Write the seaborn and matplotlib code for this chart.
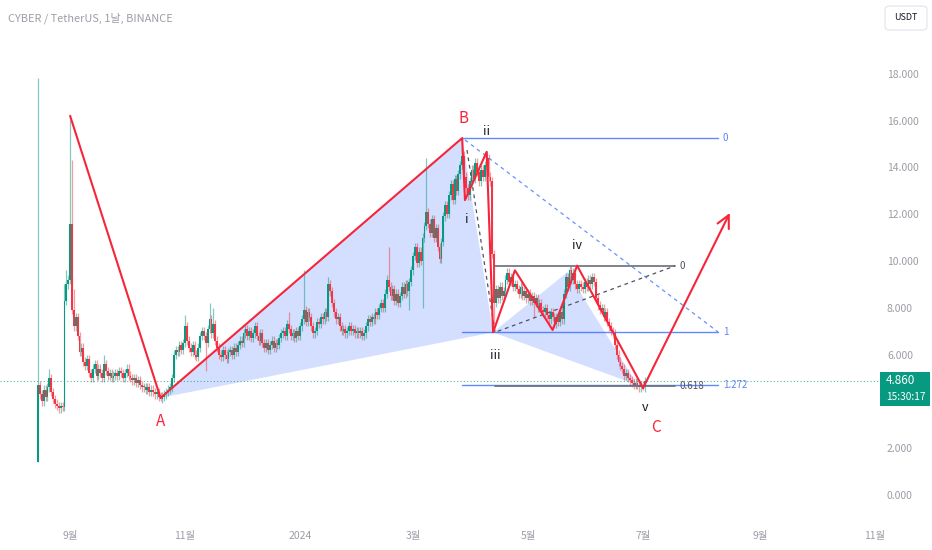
import numpy as np
import pandas as pd
import matplotlib
matplotlib.use("Agg")
import matplotlib.pyplot as plt
import matplotlib.dates as mdates
from matplotlib.patches import FancyBboxPatch, Rectangle, Polygon
import seaborn as sns

# ==========================================
# Data
# ==========================================

start = pd.Timestamp("2023-08-15")
first_open = 1.4

# daily closes, one list per month
closes_aug = [4.7, 4.3, 4.0, 4.5, 4.2, 4.6, 5.0, 4.4, 4.1, 3.9, 3.8, 3.7, 3.8, 3.75, 8.3, 9.0, 9.2]
closes_sep = [11.6, 7.9, 7.2, 7.6, 6.8, 6.1, 6.3, 5.7, 5.5, 5.8, 5.2, 5.0, 5.4, 5.6, 5.1,
              5.4, 5.2, 5.0, 5.6, 5.3, 5.1, 5.2, 5.0, 5.1, 5.2, 5.1, 5.3, 5.2, 5.0, 5.2]
closes_oct = [5.4, 5.1, 5.0, 4.9, 5.0, 4.8, 4.9, 4.7, 4.6, 4.6, 4.5, 4.6, 4.4, 4.5, 4.4, 4.3,
              4.4, 4.2, 4.1, 4.2, 4.3, 4.4, 4.5, 4.6, 5.0, 6.0, 6.2, 6.1, 6.4, 6.2, 6.5]
closes_nov = [7.2, 6.6, 6.3, 6.1, 6.4, 6.0, 5.9, 6.3, 6.8, 7.0, 6.8, 6.5, 7.1, 7.5, 6.9,
              7.3, 6.6, 6.3, 6.0, 5.9, 6.2, 6.0, 5.8, 6.1, 6.2, 6.0, 6.3, 6.1, 6.4, 6.6]
closes_dec = [6.5, 6.9, 7.1, 6.8, 7.0, 6.7, 6.9, 7.2, 6.8, 6.6, 6.9, 6.5, 6.3, 6.5, 6.2, 6.4,
              6.6, 6.3, 6.5, 6.4, 6.7, 6.9, 7.0, 6.8, 7.3, 7.1, 6.8, 6.9, 6.7, 7.0, 6.8]
closes_jan = [7.2, 7.5, 7.9, 7.4, 7.8, 7.6, 7.2, 6.9, 7.0, 7.4, 7.3, 7.6, 7.5, 7.8, 7.6, 9.0,
              8.7, 8.2, 7.8, 7.5, 7.6, 7.2, 7.0, 7.1, 6.9, 7.0, 7.2, 7.0, 7.1, 6.9, 7.0]
closes_feb = [6.9, 7.0, 6.8, 6.9, 7.2, 7.5, 7.4, 7.6, 7.5, 7.8, 7.7, 8.0, 8.2, 8.0, 8.6,
              9.2, 8.9, 8.5, 8.8, 8.3, 8.6, 8.2, 8.5, 8.9, 8.6, 9.0, 8.7, 9.1, 9.6]
closes_mar = [10.2, 10.6, 9.9, 10.4, 10.0, 11.0, 11.5, 12.1, 11.6, 11.2, 11.8, 11.0, 11.4,
              10.6, 10.1, 10.8, 11.9, 12.4, 12.0, 12.8, 13.3, 12.6, 13.5, 13.0, 13.7, 14.1,
              14.5, 13.6, 13.1, 12.8, 13.4]
closes_apr = [13.9, 13.5, 14.2, 13.8, 13.4, 13.9, 13.6, 14.1, 14.4, 13.6, 13.4, 10.3, 8.2,
              8.8, 8.4, 8.9, 8.5, 8.7, 9.2, 9.5, 9.1, 9.3, 8.9, 9.0, 8.8, 8.6, 8.9, 8.5, 8.7, 8.4]
closes_may = [8.6, 8.3, 8.5, 8.2, 8.4, 8.0, 8.2, 7.9, 7.8, 8.0, 7.7, 7.5, 7.8, 7.6, 7.3, 7.6,
              7.4, 7.8, 7.5, 8.6, 9.3, 8.9, 9.6, 9.2, 9.5, 9.0, 8.8, 9.0, 8.9, 8.8, 9.1]
closes_jun = [8.9, 9.2, 9.0, 9.3, 9.1, 8.4, 8.1, 7.9, 8.0, 7.6, 7.8, 7.4, 7.2, 7.0, 6.9,
              6.4, 6.0, 5.7, 5.5, 5.4, 5.1, 5.2, 5.0, 4.9, 4.8, 4.7, 4.8, 4.7, 4.6, 4.7]
closes_jul = [4.6, 4.86]

# wicks that stick out (day index from Aug 15 -> price)
wick_high = {0: 17.8, 6: 5.4, 14: 9.0, 15: 9.6, 17: 16.2, 18: 14.3, 19: 8.8, 35: 6.0,
             78: 7.7, 91: 8.2, 93: 8.0, 115: 7.4, 133: 7.8, 141: 9.6, 154: 9.3,
             186: 10.6, 206: 14.4, 225: 15.2, 238: 14.7, 282: 9.8}
wick_low = {0: 1.4, 65: 4.0, 89: 5.3, 197: 7.9, 204: 8.0, 213: 9.9, 228: 12.6,
            242: 7.0, 263: 7.6, 321: 4.5}

# elliott wave path
wave_dates = ["2023-09-01", "2023-10-19", "2024-03-27", "2024-03-28 12:00", "2024-04-09",
              "2024-04-12 10:00", "2024-04-24", "2024-05-14", "2024-05-27", "2024-07-01"]
wave_prices = [16.2, 4.15, 15.25, 12.6, 14.66, 6.95, 9.6, 7.05, 9.8, 4.57]
arrow_date = "2024-08-16"
arrow_price = 12.05

abc_labels = ["A", "B", "C"]
abc_dates = ["2023-10-19", "2024-03-27 12:00", "2024-07-08"]
abc_prices = [3.12, 16.1, 2.9]

sub_labels = ["i", "ii", "iii", "iv", "v"]
sub_dates = ["2024-03-29 14:00", "2024-04-09", "2024-04-13 10:00", "2024-05-27", "2024-07-02"]
sub_prices = [11.75, 15.55, 5.98, 10.64, 3.72]

# shaded triangles
tri1_dates = ["2023-10-19", "2024-03-27", "2024-04-12 10:00"]
tri1_prices = [4.15, 15.25, 6.95]
tri2_dates = ["2024-04-12 10:00", "2024-05-22", "2024-06-28"]
tri2_prices = [6.95, 9.53, 4.7]

# fib retracement (blue)
fib_start, fib_end = "2024-03-27", "2024-08-09 17:00"
fib_high, fib_low = 15.25, 6.97
fib_ratios = [0, 1, 1.272]
fib_labels = ["0", "1", "1.272"]

# trend-based fib extension (grey)
ext_start, ext_end = "2024-04-13 10:00", "2024-07-18"
ext_base = 9.79
ext_ratios = [0, 0.618]
ext_labels = ["0", "0.618"]
ext_path_dates = ["2024-03-29 14:00", "2024-04-13 10:00", "2024-07-18"]
ext_path_prices = [14.74, 6.95, 9.79]

last_price = 4.86
last_time = "15:30:17"

tick_dates = ["2023-09-01", "2023-11-01", "2024-01-01", "2024-03-01", "2024-05-01",
              "2024-07-01", "2024-09-01", "2024-11-01"]
tick_labels = ["9월", "11월", "2024", "3월", "5월", "7월", "9월", "11월"]
price_ticks = [0, 2, 4, 6, 8, 10, 12, 14, 16, 18]


def to_dt(s):
    return pd.to_datetime(s, format="mixed")


# ==========================================
# Build candles
# ==========================================

closes = (closes_aug + closes_sep + closes_oct + closes_nov + closes_dec + closes_jan
          + closes_feb + closes_mar + closes_apr + closes_may + closes_jun + closes_jul)
dates = pd.date_range(start, periods=len(closes), freq="D")
df = pd.DataFrame({"date": dates, "close": closes})
df["open"] = [first_open] + closes[:-1]
df["top"] = df[["open", "close"]].max(axis=1)
df["bot"] = df[["open", "close"]].min(axis=1)
df["high"] = [wick_high.get(i, t + 0.18) for i, t in enumerate(df["top"])]
df["low"] = [wick_low.get(i, b - 0.18) for i, b in enumerate(df["bot"])]
df["up"] = df["close"] >= df["open"]

GREEN = "#089981"
RED = "#f23645"
WAVE_RED = "#f7253a"
BLUE = "#2962ff"
GREY = "#6a6d78"
TXT = "#9b9ea6"

sns.set_style("white")
plt.rcParams["font.family"] = ["Noto Sans CJK KR", "DejaVu Sans"]

W, H = 932, 550
fig = plt.figure(figsize=(W / 100, H / 100), dpi=100)
ax = fig.add_axes([0, 26 / H, 880 / W, 524 / H])

colors = np.where(df["up"], GREEN, RED)

# shaded triangles
for td, tp in [(tri1_dates, tri1_prices), (tri2_dates, tri2_prices)]:
    pts = list(zip(mdates.date2num(to_dt(td)), tp))
    ax.add_patch(Polygon(pts, closed=True, facecolor=BLUE, alpha=0.2, edgecolor="none", zorder=1))

# candles
ax.vlines(df["date"], df["low"], df["high"], colors=colors, lw=0.9, alpha=0.5, zorder=2)
ax.bar(df["date"], np.maximum(df["top"] - df["bot"], 0.06), bottom=df["bot"],
       width=0.95, color=colors, linewidth=0, zorder=3)

# current price line
ax.axhline(last_price, color=GREEN, lw=0.8, ls=(0, (1, 2)), alpha=0.7, zorder=2)

# fib retracement
fs, fe = to_dt(fib_start), to_dt(fib_end)
for r, lab in zip(fib_ratios, fib_labels):
    p = fib_high - r * (fib_high - fib_low)
    ax.plot([fs, fe], [p, p], color=BLUE, lw=1.0, alpha=0.75, zorder=4)
    ax.text(fe + pd.Timedelta(days=2.5), p, lab, color="#5b86f2", fontsize=7,
            va="center", ha="left", zorder=6)
ax.plot([fs + pd.Timedelta(days=1.5), fe], [fib_high - 0.08, fib_low], color=BLUE,
        lw=0.9, alpha=0.7, ls=(0, (3, 3)), zorder=4)

# trend-based extension
es, ee = to_dt(ext_start), to_dt(ext_end)
for r, lab in zip(ext_ratios, ext_labels):
    p = ext_base - r * (fib_high - fib_low)
    ax.plot([es, ee], [p, p], color=GREY, lw=1.2, zorder=4)
    ax.text(ee + pd.Timedelta(days=2.5), p, lab, color="#50535e", fontsize=7,
            va="center", ha="left", zorder=6)
ax.plot(to_dt(ext_path_dates), ext_path_prices, color="#50535e", lw=0.9,
        ls=(0, (3, 3)), zorder=4)

# wave line
sns.lineplot(x=to_dt(wave_dates), y=wave_prices, sort=False, color=WAVE_RED,
             lw=1.5, ax=ax, zorder=5)
ax.annotate("", xy=(to_dt(arrow_date), arrow_price),
            xytext=(to_dt(wave_dates[-1]), wave_prices[-1]),
            arrowprops=dict(arrowstyle="->,head_length=0.9,head_width=0.45",
                            color=WAVE_RED, lw=1.5, shrinkA=0, shrinkB=0), zorder=5)

for lab, d, p in zip(abc_labels, abc_dates, abc_prices):
    ax.text(to_dt(d), p, lab, color=WAVE_RED, fontsize=11, ha="center",
            va="center", zorder=6)
for lab, d, p in zip(sub_labels, sub_dates, sub_prices):
    ax.text(to_dt(d), p, lab, color="#131722", fontsize=9, ha="center",
            va="center", zorder=6)

# axes
x0 = start - pd.Timedelta(days=20.2)
x1 = start + pd.Timedelta(days=446.7)
ax.set_xlim(x0, x1)
ax.set_ylim(-1.24, 21.15)
ax.set_xticks(to_dt(tick_dates))
ax.set_xticklabels(tick_labels)
ax.set_yticks(price_ticks)
ax.set_yticklabels([f"{v:.3f}" for v in price_ticks])
ax.yaxis.tick_right()
ax.tick_params(axis="y", length=0, pad=5, labelsize=7.5, labelcolor=TXT)
ax.tick_params(axis="x", length=0, pad=5, labelsize=7.5, labelcolor=TXT)
for s in ax.spines.values():
    s.set_visible(False)
ax.grid(False)
ax.set_xlabel("")
ax.set_ylabel("")

# header
fig.text(8 / W, 1 - 18 / H, "CYBER / TetherUS, 1날, BINANCE", fontsize=7.9,
         color=TXT, ha="left", va="center")

# USDT box
fig.patches.append(FancyBboxPatch((885 / W, 1 - 30 / H), 42 / W, 24 / H,
                                  boxstyle="round,pad=0,rounding_size=0.006",
                                  transform=fig.transFigure, facecolor="white",
                                  edgecolor="#e0e3eb", lw=0.8, zorder=10))
fig.text(906 / W, 1 - 18 / H, "USDT", fontsize=6.5, color="#131722", ha="center",
         va="center", zorder=11)

# last price box
fig.patches.append(Rectangle((880 / W, 1 - 406 / H), 50 / W, 34 / H,
                             transform=fig.transFigure, facecolor=GREEN,
                             edgecolor="none", zorder=10))
fig.text(886 / W, 1 - 381 / H, f"{last_price:.3f}", fontsize=8.5, color="white",
         ha="left", va="center", zorder=11)
fig.text(886 / W, 1 - 397 / H, last_time, fontsize=7.3, color="white",
         ha="left", va="center", zorder=11)

plt.savefig("out.png", dpi=100)
